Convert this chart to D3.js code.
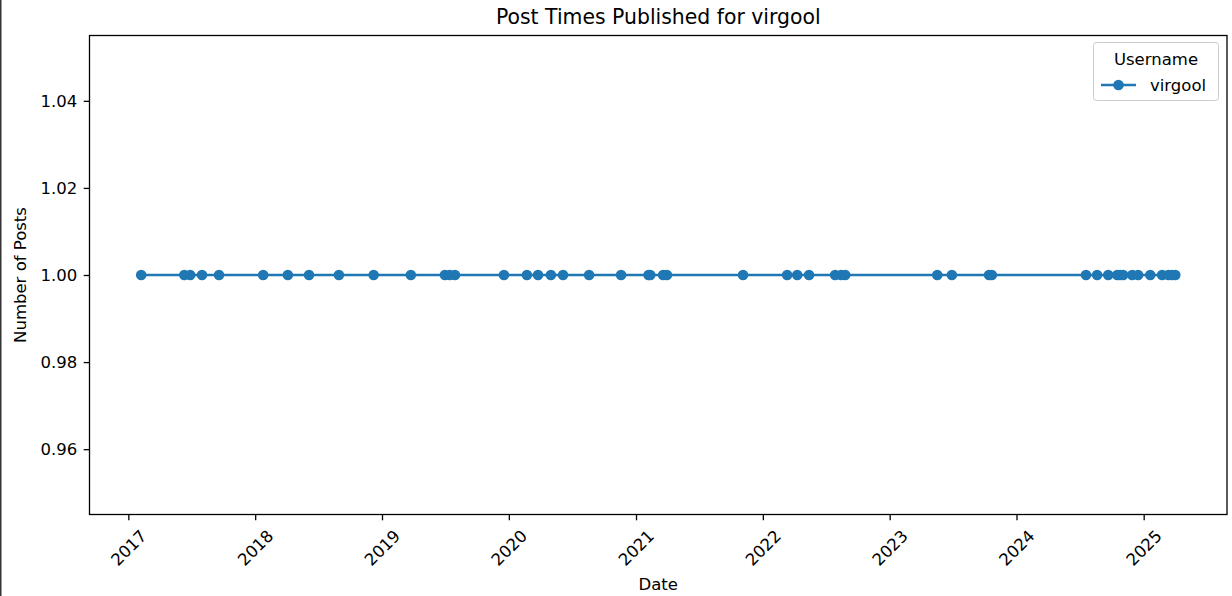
<!DOCTYPE html>
<html><head><meta charset="utf-8">
<script src="https://cdn.jsdelivr.net/npm/d3@7"></script>
<style>
html,body{margin:0;padding:0;background:#fff;}
svg{display:block;font-family:"DejaVu Sans",sans-serif;}
svg text{font-family:"DejaVu Sans",sans-serif;}
</style></head><body>
<svg id="chart" width="1232" height="596"></svg>
<script>
const seriesName = "virgool";
const postDates = [
"2017-02-07","2017-06-11","2017-06-28","2017-08-01","2017-09-19",
"2018-01-24","2018-04-05","2018-06-05","2018-08-30","2018-12-08",
"2019-03-25","2019-07-01","2019-07-15","2019-07-30","2019-12-18",
"2020-02-22","2020-03-25","2020-05-01","2020-06-05","2020-08-19","2020-11-19",
"2021-02-06","2021-02-11","2021-03-20","2021-03-31","2021-11-05",
"2022-03-12","2022-04-10","2022-05-14","2022-07-28","2022-08-14","2022-08-26",
"2023-05-18","2023-06-29","2023-10-14","2023-10-22",
"2024-07-19","2024-08-20","2024-09-21","2024-10-17","2024-10-25","2024-11-03","2024-11-29","2024-12-16",
"2025-01-20","2025-02-23","2025-03-13","2025-03-24","2025-04-02"
];
const postCounts = postDates.map(() => 1);
const yTicks = [0.96, 0.98, 1.00, 1.02, 1.04];
const xTickYears = [2017,2018,2019,2020,2021,2022,2023,2024,2025];

const parse = d3.timeParse("%Y-%m-%d");
const data = postDates.map((d,i) => ({date: parse(d), value: postCounts[i]}));

const svg = d3.select("#chart");
const L = 89.5, R = 1227, T = 35.5, B = 514.5;
const color = "#1f77b4";
const FONT = "DejaVu Sans, sans-serif";
const FS = "16.5px";

const ext = d3.extent(data, d => d.date);
const span = ext[1] - ext[0];
const x = d3.scaleTime()
  .domain([new Date(+ext[0] - span*0.05), new Date(+ext[1] + span*0.05)])
  .range([L, R]);
const y = d3.scaleLinear().domain([0.945, 1.055]).range([B, T]);

// left figure border
svg.append("line").attr("x1",0.75).attr("x2",0.75).attr("y1",0).attr("y2",596)
  .attr("stroke","#333").attr("stroke-width",1.5);

// line + markers
svg.append("clipPath").attr("id","clip").append("rect")
  .attr("x",L).attr("y",T).attr("width",R-L).attr("height",B-T);
const g = svg.append("g").attr("clip-path","url(#clip)");
g.append("path").datum(data)
  .attr("fill","none").attr("stroke",color).attr("stroke-width",2.4)
  .attr("d", d3.line().x(d=>x(d.date)).y(d=>y(d.value)));
g.selectAll("circle.pt").data(data).join("circle").attr("class","pt")
  .attr("cx",d=>x(d.date)).attr("cy",d=>y(d.value)).attr("r",5.3).attr("fill",color);

// axes
const xAxis = d3.axisBottom(x)
  .tickValues(xTickYears.map(yr => new Date(yr,0,1)))
  .tickFormat(d3.timeFormat("%Y")).tickSize(5.8).tickPadding(5.8);
const gx = svg.append("g").attr("transform",`translate(0,${B})`).call(xAxis)
  .attr("font-family",FONT).attr("font-size",FS);
gx.select(".domain").remove();
gx.selectAll("line").attr("stroke","#000").attr("stroke-width",1.3);
gx.selectAll("text")
  .attr("fill","#000")
  .attr("text-anchor","middle").attr("dominant-baseline","central")
  .attr("dy",null).attr("y",null)
  .attr("transform","translate(0,33.5) rotate(-45)");

const yAxis = d3.axisLeft(y).tickValues(yTicks).tickFormat(d3.format(".2f"))
  .tickSize(5.8).tickPadding(6.5);
const gy = svg.append("g").attr("transform",`translate(${L},0)`).call(yAxis)
  .attr("font-family",FONT).attr("font-size",FS);
gy.select(".domain").remove();
gy.selectAll("line").attr("stroke","#000").attr("stroke-width",1.3);
gy.selectAll("text").attr("fill","#000");

// frame
svg.append("rect").attr("x",L).attr("y",T).attr("width",R-L).attr("height",B-T)
  .attr("fill","none").attr("stroke","#000").attr("stroke-width",1.3);

// title & labels
svg.append("text").attr("x",(L+R)/2).attr("y",24).attr("text-anchor","middle")
  .attr("font-size","20.4px").attr("fill","#000").text("Post Times Published for virgool");
svg.append("text").attr("x",(L+R)/2).attr("y",590).attr("text-anchor","middle")
  .attr("font-size",FS).attr("fill","#000").text("Date");
svg.append("text").attr("transform",`translate(25.5,${(T+B)/2}) rotate(-90)`)
  .attr("text-anchor","middle").attr("font-size",FS).attr("fill","#000").text("Number of Posts");

// legend
const lg = svg.append("g");
lg.append("rect").attr("x",1093.5).attr("y",42.5).attr("width",125).attr("height",58)
  .attr("rx",3).attr("fill","#fff").attr("fill-opacity",0.8).attr("stroke","#cccccc");
lg.append("text").attr("x",1156).attr("y",65).attr("text-anchor","middle")
  .attr("font-size",FS).attr("fill","#000").text("Username");
lg.append("line").attr("x1",1101).attr("x2",1136).attr("y1",85).attr("y2",85)
  .attr("stroke",color).attr("stroke-width",2.4);
lg.append("circle").attr("cx",1118.5).attr("cy",85).attr("r",5.3).attr("fill",color);
lg.append("text").attr("x",1150).attr("y",91)
  .attr("font-size",FS).attr("fill","#000").text(seriesName);
</script>
</body></html>
